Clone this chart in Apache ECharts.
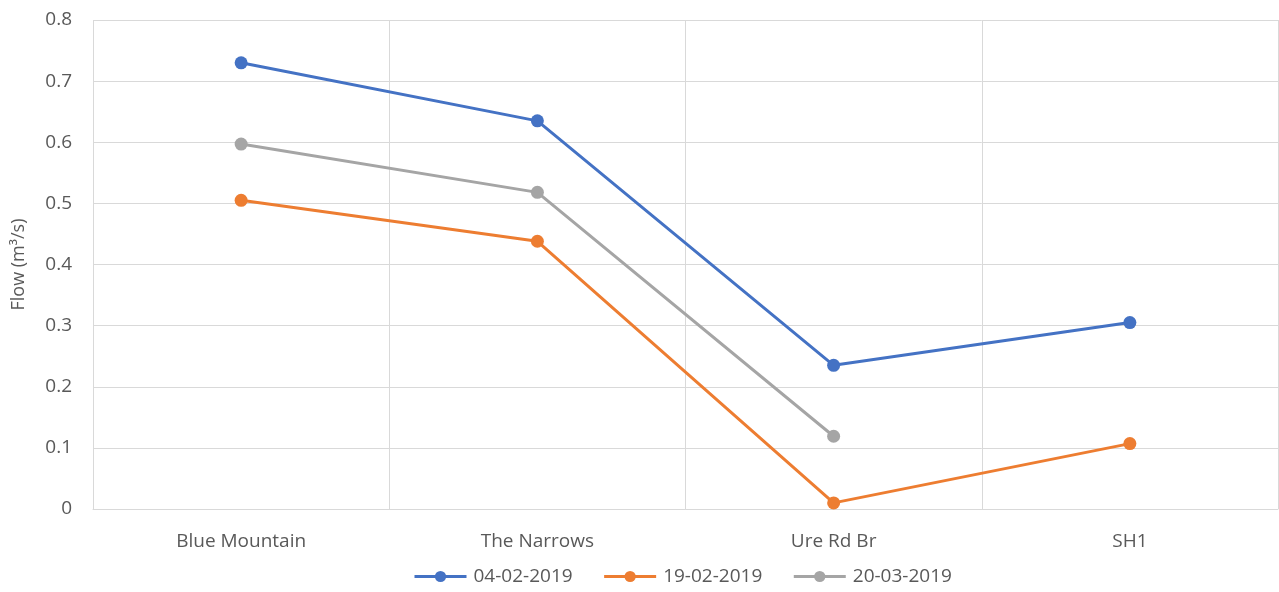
<!DOCTYPE html>
<html lang="en">
<head>
<meta charset="UTF-8">
<title>Flow</title>
<style>
    html, body { margin: 0; padding: 0; background: #fff; }
    #echart { width: 1279px; height: 592px; }
</style>
</head>
<body>
<div id="echart"></div>
<script src="https://cdn.jsdelivr.net/npm/echarts@6/dist/echarts.min.js"></script>
<script>
    const categories = ["Blue Mountain", "The Narrows", "Ure Rd Br", "SH1"];
    const flow0402 = [0.73, 0.635, 0.235, 0.305];
    const flow1902 = [0.505, 0.438, 0.01, 0.107];
    const flow2003 = [0.597, 0.518, 0.119, null];
    const seriesNames = ["04-02-2019", "19-02-2019", "20-03-2019"];
    const colors = ["#4472c4", "#ed7d31", "#a5a5a5"];

    const myChart = echarts.init(document.getElementById("echart"));
    const font = "Open Sans";
    const textColor = "#595959";
    const gridColor = "#d9d9d9";

    const makeSeries = (name, data, color) => ({
        name: name,
        type: "line",
        data: data,
        symbol: "circle",
        symbolSize: 13,
        connectNulls: false,
        lineStyle: { width: 3, color: color },
        itemStyle: { color: color }
    });

    const option = {
        animation: false,
        textStyle: { fontFamily: font },
        grid: { left: 93, right: 1, top: 20, bottom: 83 },
        legend: {
            bottom: 1,
            left: 408,
            itemWidth: 52,
            itemHeight: 14,
            itemGap: 30,
            lineStyle: { width: 3 },
            textStyle: { fontSize: 19, color: textColor, fontFamily: font, padding: [0, 0, 0, 2] },
            data: seriesNames
        },
        xAxis: {
            type: "category",
            data: categories,
            boundaryGap: true,
            axisLine: { lineStyle: { color: gridColor, width: 1 } },
            axisTick: { show: false },
            splitLine: { show: true, lineStyle: { color: gridColor, width: 1 } },
            axisLabel: { fontSize: 19, color: textColor, margin: 23, fontFamily: font }
        },
        yAxis: {
            type: "value",
            min: 0,
            max: 0.8,
            interval: 0.1,
            name: "Flow (m³/s)",
            nameLocation: "middle",
            nameGap: 65,
            nameTextStyle: { fontSize: 18, color: textColor, fontFamily: font },
            axisLine: { show: false },
            axisTick: { show: false },
            splitLine: { lineStyle: { color: gridColor, width: 1 } },
            axisLabel: {
                fontSize: 19,
                color: textColor,
                margin: 21,
                fontFamily: font,
                formatter: (v) => (v === 0 ? "0" : v.toFixed(1))
            }
        },
        series: [
            makeSeries(seriesNames[0], flow0402, colors[0]),
            makeSeries(seriesNames[1], flow1902, colors[1]),
            makeSeries(seriesNames[2], flow2003, colors[2])
        ]
    };

    myChart.setOption(option);
</script>
</body>
</html>
